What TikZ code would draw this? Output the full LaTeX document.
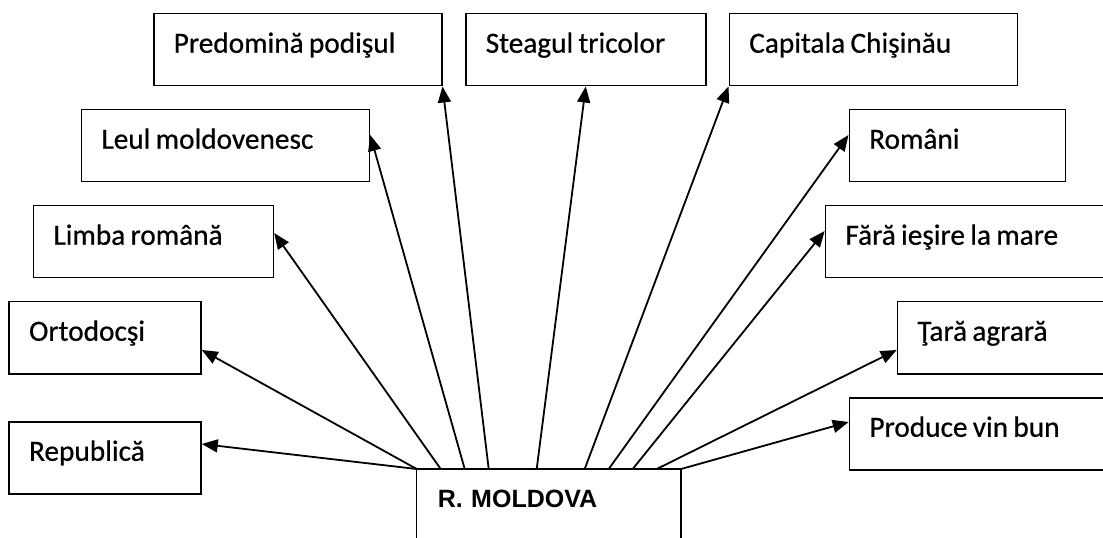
\documentclass[tikz,border=0pt]{standalone}
\usepackage{fontspec}
\setmainfont{Carlito}
\newfontfamily\boxfont{Carlito}[FakeBold=0.6]
\newfontfamily\arialfont{Liberation Sans}
\usetikzlibrary{arrows.meta}
\newcommand\boxtext[1]{\spaceskip=0.18em\relax\hspace*{20bp}#1}
\begin{document}
\begin{tikzpicture}[x=1bp,y=-1bp,
  box/.style={draw, line width=1.5bp, inner sep=0pt, anchor=north west,
    text height=39bp, text depth=33bp,
    font=\boxfont\fontsize{29.3bp}{35bp}\selectfont},
  centerbox/.style={inner sep=0pt, anchor=north west, text width=264bp,
    text height=38bp, text depth=42bp, font=\arialfont\bfseries\fontsize{25bp}{30bp}\selectfont},
  arr/.style={line width=1.8bp, -{Triangle[length=16bp,width=13bp]}}]
\useasboundingbox (0,0) rectangle (1103,538);
\clip (0,0) rectangle (1103,538);
% boxes
\node[box, text width=288bp] (pred)  at (153,13)    {\boxtext{Predomină podişul}};
\node[box, text width=240bp] (steag) at (465,13)    {\boxtext{Steagul tricolor}};
\node[box, text width=288bp] (cap)   at (728.5,13)  {\boxtext{Capitala Chişinău}};
\node[box, text width=288bp] (leul)  at (80.7,109)  {\boxtext{Leul moldovenesc}};
\node[box, text width=216bp] (rom)   at (848.5,109) {\boxtext{Români}};
\node[box, text width=240bp] (limba) at (32.7,205)  {\boxtext{Limba română}};
\node[box, text width=300bp] (fara)  at (824.7,205) {\boxtext{Fără ieşire la mare}};
\node[box, text width=192bp] (orto)  at (8.3,301)   {\boxtext{Ortodocşi}};
\node[box, text width=240bp] (tara)  at (896.7,301) {\boxtext{Ţară agrară}};
\node[box, text width=192bp] (rep)   at (8.3,421)   {\boxtext{Republică}};
\node[box, text width=264bp] (prod)  at (848.7,397) {\boxtext{Produce vin bun}};
% central box (open at the bottom)
\node[centerbox] (mold) at (416.7,469) {\hspace*{21bp}R. MOLDOVA};
\draw[line width=1.5bp] (mold.south west) |- (mold.north east) -- (mold.south east);
% connectors
\draw[arr] (mold.north west) -- ([yshift=-23bp]rep.north east);
\draw[arr] (mold.north west) -- ([yshift=-49bp]orto.north east);
\draw[arr] ([xshift=24bp]mold.north west) -- ([yshift=-28bp]limba.north east);
\draw[arr] ([xshift=48bp]mold.north west) -- ([yshift=-26bp]leul.north east);
\draw[arr] ([xshift=72bp]mold.north west) -- (pred.south east);
\draw[arr] ([xshift=120bp]mold.north west) -- (steag.south);
\draw[arr] ([xshift=168bp]mold.north west) -- (cap.south west);
\draw[arr] ([xshift=192bp]mold.north west) -- ([yshift=-26bp]rom.north west);
\draw[arr] ([xshift=216bp]mold.north west) -- ([yshift=-26bp]fara.north west);
\draw[arr] ([xshift=240bp]mold.north west) -- ([yshift=-49bp]tara.north west);
\draw[arr] (mold.north east) -- ([yshift=-25bp]prod.north west);
\end{tikzpicture}
\end{document}
